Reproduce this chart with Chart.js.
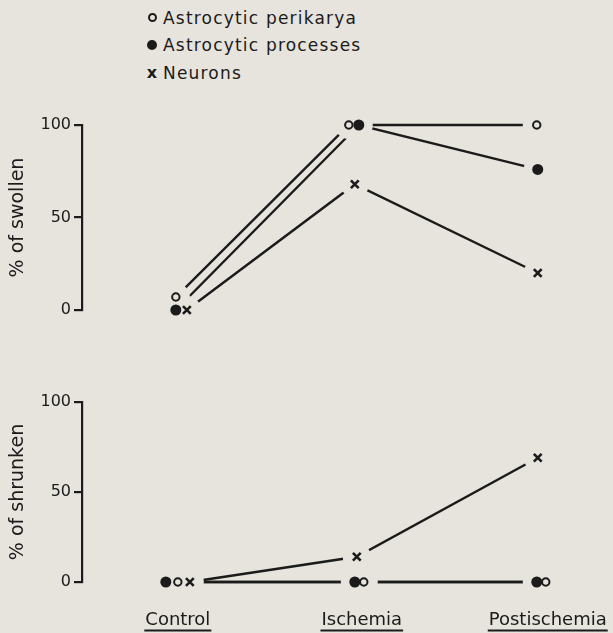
<!DOCTYPE html>
<html>
<head>
<meta charset="utf-8">
<script src="https://cdn.jsdelivr.net/npm/chart.js@4.4.0/dist/chart.umd.min.js"></script>
<style>
  html, body { margin: 0; padding: 0; background: #e6e4dc; }
  body { width: 613px; height: 633px; position: relative; overflow: hidden;
         font-family: 'DejaVu Sans', sans-serif; color: #1b1b1b; }
  #legend { position: absolute; left: 141px; top: 4px; }
  .row { height: 27.5px; display: flex; align-items: center; font-size: 17px; letter-spacing: 1.2px; }
  .sym { width: 22px; height: 14px; display: flex; align-items: center; justify-content: center; }
  .hollow { width: 9px; height: 9px; box-sizing: border-box; border: 2px solid #1b1b1b; border-radius: 50%; }
  .filled { width: 10px; height: 10px; background: #1b1b1b; border-radius: 50%; }
  .cross { font-size: 16px; font-weight: bold; letter-spacing: 0; line-height: 14px; }
  .wrap { position: absolute; left: 0; width: 613px; }
</style>
</head>
<body>
<div id="legend"></div>
<div class="wrap" style="top:0;height:330px"><canvas id="swollen"></canvas></div>
<div class="wrap" style="top:330px;height:303px"><canvas id="shrunken"></canvas></div>
<script>
// data (% of cells)
const categories = ['Control', 'Ischemia', 'Postischemia'];
const seriesNames = ['Astrocytic perikarya', 'Astrocytic processes', 'Neurons'];
const swollenPerikarya = [7, 100, 100];
const swollenProcesses = [0, 100, 76];
const swollenNeurons = [0, 68, 20];
const shrunkenPerikarya = [0, 0, 0];
const shrunkenProcesses = [0, 0, 0];
const shrunkenNeurons = [0, 14, 69];
const yTicks = [0, 50, 100];

const FONT = "'DejaVu Sans', sans-serif";
const ink = '#1b1b1b';
const paper = '#e6e4dc';

// the figure nudges overlapping symbols sideways (pixels)
const swollenNudge = [[-2, -9, -1], [-2, 1, 0], [9, -3, 0]];
const shrunkenNudge = [[0, 6, 8], [-12, -3, -1], [12, -1, 0]];
const labelNudge = [0, 4, 10];

const markerStyles = [
    { pointStyle: 'circle', pointRadius: 3.7, pointBorderWidth: 2, pointBackgroundColor: paper, pointBorderColor: ink },
    { pointStyle: 'circle', pointRadius: 5.5, pointBorderWidth: 0, pointBackgroundColor: ink, pointBorderColor: ink },
    { pointStyle: 'crossRot', pointRadius: 5.5, pointBorderWidth: 2.6, pointBackgroundColor: ink, pointBorderColor: ink }
];

// legend
const legendEl = document.getElementById('legend');
['hollow', 'filled', 'cross'].forEach((kind, s) => {
    const row = document.createElement('div');
    row.className = 'row';
    const sym = document.createElement('span');
    sym.className = 'sym';
    const mark = document.createElement('span');
    mark.className = kind;
    if (kind === 'cross') mark.textContent = 'x';
    sym.appendChild(mark);
    const txt = document.createElement('span');
    txt.textContent = seriesNames[s];
    row.appendChild(sym);
    row.appendChild(txt);
    legendEl.appendChild(row);
});

// each series = line, paper-coloured halo (gaps at the ends), symbol
function seriesDatasets(values, dx, s) {
    const pts = () => values.map((v, i) => ({ x: i, y: v }));
    return [
        { label: seriesNames[s], data: pts(), dx, showLine: true, borderColor: ink, borderWidth: 2.4,
          pointRadius: 0, order: 3, clip: false },
        { data: pts(), dx, showLine: false, pointRadius: 14, pointBorderWidth: 0,
          pointBackgroundColor: paper, pointBorderColor: paper, order: 2, clip: false },
        Object.assign({ data: pts(), dx, showLine: false, order: 1, clip: false }, markerStyles[s])
    ];
}

const nudge = {
    id: 'nudge',
    afterDatasetsUpdate(chart) {
        chart.data.datasets.forEach((d, k) => {
            const meta = chart.getDatasetMeta(k);
            meta.data.forEach((pt, i) => { pt.x += d.dx[i]; });
        });
    }
};

// underlined category names under the lower panel
const xLabels = {
    id: 'xLabels',
    afterDraw(chart) {
        const sc = chart.scales.x;
        const ctx = chart.ctx;
        const base = chart.chartArea.bottom;
        ctx.save();
        ctx.font = '18px ' + FONT;
        ctx.fillStyle = ink;
        ctx.strokeStyle = ink;
        ctx.lineWidth = 2;
        ctx.textAlign = 'center';
        ctx.textBaseline = 'alphabetic';
        categories.forEach((c, i) => {
            const cx = sc.getPixelForValue(i) + labelNudge[i];
            const w = ctx.measureText(c).width;
            ctx.fillText(c, cx, base + 43);
            ctx.beginPath();
            ctx.moveTo(cx - w / 2 - 1, base + 48.5);
            ctx.lineTo(cx + w / 2 + 1, base + 48.5);
            ctx.stroke();
        });
        ctx.restore();
    }
};

function makeChart(id, series, nudges, title, padTop, padBottom, withLabels) {
    let datasets = [];
    series.forEach((vals, s) => { datasets = datasets.concat(seriesDatasets(vals, nudges[s], s)); });
    return new Chart(document.getElementById(id), {
        type: 'line',
        data: { datasets: datasets },
        options: {
            responsive: true,
            maintainAspectRatio: false,
            animation: false,
            events: [],
            layout: { padding: { top: padTop, bottom: padBottom, left: 0, right: 8 } },
            plugins: { legend: { display: false }, tooltip: { enabled: false } },
            scales: {
                x: { type: 'linear', min: -0.5326, max: 2.3404, display: false },
                y: {
                    min: 0,
                    max: 100,
                    afterBuildTicks: sc => { sc.ticks = yTicks.map(v => ({ value: v })); },
                    afterFit: sc => { sc.width = 82; },
                    border: { display: true, color: ink, width: 2.2 },
                    grid: { drawOnChartArea: false, drawTicks: true, tickLength: 8, color: ink, lineWidth: 2.2 },
                    ticks: { color: ink, padding: 3, font: { family: FONT, size: 16 } },
                    title: { display: true, text: title, color: ink, padding: { top: 7, bottom: 0 },
                             font: { family: FONT, size: 19 } }
                }
            }
        },
        plugins: withLabels ? [nudge, xLabels] : [nudge]
    });
}

makeChart('swollen', [swollenPerikarya, swollenProcesses, swollenNeurons], swollenNudge, '% of swollen', 125, 20, false);
makeChart('shrunken', [shrunkenPerikarya, shrunkenProcesses, shrunkenNeurons], shrunkenNudge, '% of shrunken', 72, 51, true);
</script>
</body>
</html>
